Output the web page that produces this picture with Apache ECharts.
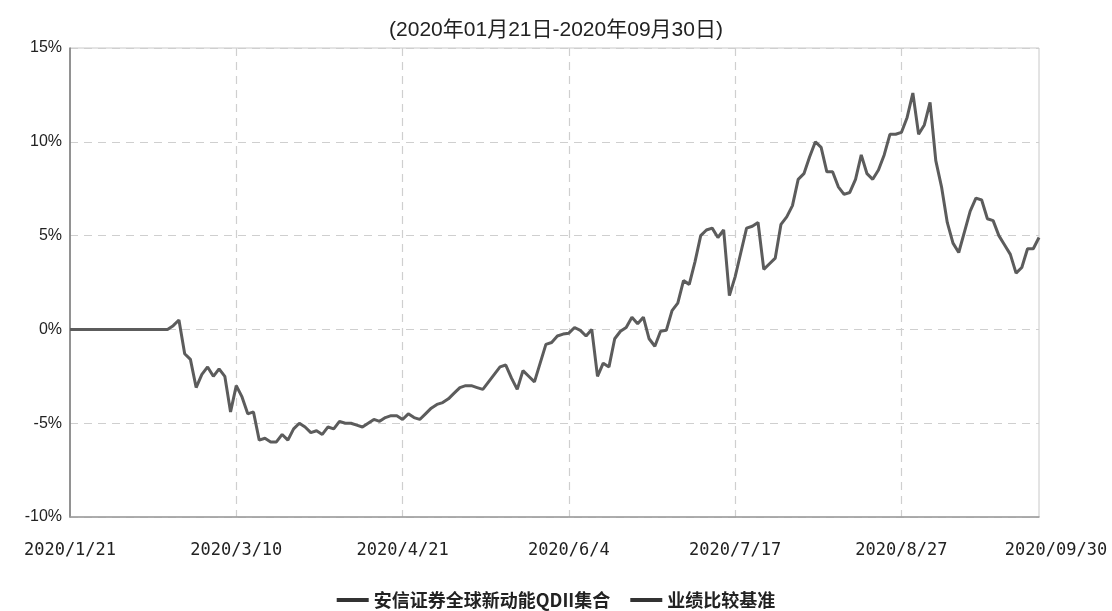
<!DOCTYPE html>
<html>
<head>
<meta charset="utf-8">
<script src="https://cdn.jsdelivr.net/npm/echarts@6/dist/echarts.min.js"></script>
<style>
html,body{margin:0;padding:0;background:#fff;}
#chart{width:1112px;height:611px;}
</style>
</head>
<body>
<div id="chart"></div>
<script>
// ---- data ----
const titleText = '(2020年01月21日-2020年09月30日)';
const seriesNames = ['安信证券全球新动能QDII集合', '业绩比较基准'];
const startDate = '2020-01-21';
const endDate = '2020-09-30';
const holidays = ['2020-01-24','2020-01-27','2020-01-28','2020-01-29','2020-01-30','2020-01-31',
  '2020-04-06','2020-05-01','2020-05-04','2020-05-05','2020-06-25','2020-06-26'];
const tickDates = ['2020-01-21','2020-03-10','2020-04-21','2020-06-04','2020-07-17','2020-08-27','2020-09-30'];
const tickLabels = ['2020/1/21','2020/3/10','2020/4/21','2020/6/4','2020/7/17','2020/8/27','2020/09/30'];
const fundValues = [
  0,0,0,0,0,0,0,0,0,0,0,0,0,0,0,0,0,0,
  0.2,0.5,-1.3,-1.6,-3.1,-2.4,-2.0,-2.5,-2.1,-2.5,-4.4,-3.0,
  -3.6,-4.5,-4.4,-5.9,-5.8,-6.0,-6.0,-5.6,-5.9,-5.3,
  -5.0,-5.2,-5.5,-5.4,-5.6,-5.2,-5.3,-4.9,-5.0,-5.0,
  -5.1,-5.2,-5.0,-4.8,-4.9,-4.7,-4.6,-4.6,-4.8,-4.5,
  -4.7,-4.8,-4.5,-4.2,-4.0,-3.9,-3.7,-3.4,-3.1,-3.0,
  -3.0,-3.1,-3.2,-2.8,-2.4,-2.0,-1.9,-2.6,-3.2,-2.2,
  -2.5,-2.8,-1.8,-0.8,-0.7,-0.35,-0.25,-0.2,0.1,-0.05,
  -0.35,0.0,-2.5,-1.8,-2.0,-0.5,-0.1,0.1,0.65,0.3,
  0.65,-0.5,-0.9,-0.1,-0.05,1.0,1.4,2.6,2.4,3.6,
  5.0,5.3,5.4,4.9,5.3,1.8,2.8,4.1,5.4,5.5,
  5.7,3.2,3.5,3.8,5.6,6.0,6.6,8.0,8.3,9.2,
  10.0,9.7,8.4,8.4,7.6,7.2,7.3,8.0,9.3,8.3,
  8.0,8.5,9.3,10.4,10.4,10.5,11.3,12.6,10.4,10.9,
  12.1,9.0,7.6,5.7,4.6,4.1,5.2,6.3,7.0,6.9,
  5.9,5.8,5.0,4.5,4.0,3.0,3.3,4.3,4.3,4.9
];
const benchmarkValues = [];
const yMin = -10, yMax = 15, yStep = 5;

// ---- build trading-day categories ----
function pad(n){return (n<10?'0':'')+n;}
const categories = [];
(function(){
  const d = new Date(startDate + 'T00:00:00Z');
  const end = new Date(endDate + 'T00:00:00Z');
  while (d <= end) {
    const key = d.getUTCFullYear()+'-'+pad(d.getUTCMonth()+1)+'-'+pad(d.getUTCDate());
    const wd = d.getUTCDay();
    if (wd !== 0 && wd !== 6 && holidays.indexOf(key) < 0) categories.push(key);
    d.setUTCDate(d.getUTCDate()+1);
  }
})();
const lastCat = categories[categories.length-1];
const isTick = (idx, val) => tickDates.indexOf(categories[idx]) >= 0;
const isInnerTick = (idx) => { const c = categories[idx]; return tickDates.indexOf(c) > 0 && c !== lastCat; };

const chart = echarts.init(document.getElementById('chart'), null, {renderer:'canvas'});
chart.setOption({
  animation:false,
  backgroundColor:'#fff',
  title:{
    text:titleText, left:'center', top:15,
    textStyle:{fontFamily:'Liberation Sans, Noto Sans CJK SC, sans-serif', fontSize:21, fontWeight:'normal', color:'#222'}
  },
  legend:{
    data:seriesNames, left:'center', top:586, icon:'rect', itemWidth:32, itemHeight:4, itemGap:20,
    textStyle:{fontFamily:'Noto Sans CJK SC, sans-serif', fontSize:18, color:'#222', fontWeight:'bold'}
  },
  grid:{left:70, right:73, top:48, bottom:94, show:true, borderColor:'#c8c8c8', borderWidth:1},
  xAxis:{
    type:'category', data:categories, boundaryGap:false,
    axisLine:{show:true, onZero:false, lineStyle:{color:'#9a9a9a', width:1.5}},
    axisTick:{show:false},
    axisLabel:{
      interval:isTick, margin:25, color:'#222',
      fontFamily:'DejaVu Sans Mono, monospace', fontSize:17,
      formatter:function(v){
        const k = tickDates.indexOf(v);
        if (k < 0) return '';
        return v === lastCat ? '{last|' + tickLabels[k] + '}' : tickLabels[k];
      },
      rich:{last:{fontFamily:'DejaVu Sans Mono, monospace', fontSize:17, color:'#222', padding:[0,0,0,34]}}
    },
    splitLine:{show:true, interval:isInnerTick, lineStyle:{color:'#cfcfcf', type:[8,6], width:1.2}}
  },
  yAxis:{
    type:'value', min:yMin, max:yMax, interval:yStep,
    axisLine:{show:true, lineStyle:{color:'#777', width:1.5}},
    axisTick:{show:false},
    axisLabel:{formatter:'{value}%', color:'#222', margin:8, fontFamily:'Liberation Sans, sans-serif', fontSize:16},
    splitLine:{show:true, lineStyle:{color:'#cfcfcf', type:[8,6], width:1.2}}
  },
  series:[
    {name:seriesNames[0], type:'line', data:fundValues, showSymbol:false, symbol:'none',
     itemStyle:{color:'#333'}, lineStyle:{color:'#5c5c5c', width:3}},
    {name:seriesNames[1], type:'line', data:benchmarkValues, showSymbol:false, symbol:'none',
     itemStyle:{color:'#333'}, lineStyle:{color:'#5c5c5c', width:3}}
  ]
});
</script>
</body>
</html>
